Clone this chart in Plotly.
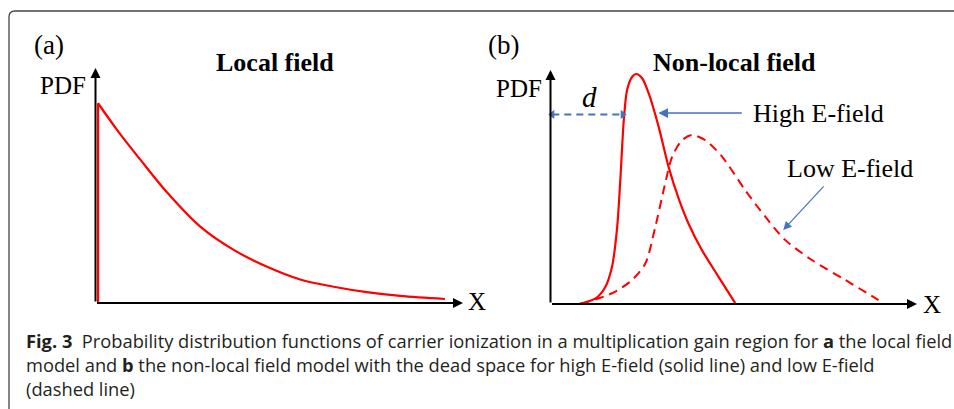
import plotly.graph_objects as go

W, H = 954, 409

# ---------------- data (arbitrary units) ----------------
# Panel (a): local field PDF
x_local = [0.07, 0.59, 1.22, 1.95, 2.85, 3.76, 4.67, 5.57, 6.48, 7.38, 8.29, 9.51]
pdf_local = [0.85, 0.736, 0.61, 0.47, 0.325, 0.226, 0.154, 0.10, 0.069, 0.046, 0.030, 0.017]

# Panel (b): non-local field PDFs
x_high = [0.77, 1.23, 1.50, 1.68, 1.82, 1.91, 2.00, 2.09, 2.23, 2.34, 2.50, 2.68,
          2.95, 3.22, 3.50, 3.77, 4.13, 4.59, 5.04]
pdf_high = [0.0, 0.024, 0.074, 0.16, 0.33, 0.544, 0.786, 0.915, 0.971, 0.983, 0.965,
            0.90, 0.758, 0.587, 0.449, 0.342, 0.231, 0.115, 0.004]

x_low = [0.82, 1.68, 2.23, 2.59, 2.86, 3.13, 3.32, 3.59, 3.86, 4.22, 4.68, 5.31,
         5.86, 6.40, 7.13, 8.04, 8.95]
pdf_low = [0.0, 0.046, 0.103, 0.174, 0.33, 0.516, 0.63, 0.70, 0.722, 0.70, 0.63,
           0.487, 0.373, 0.274, 0.188, 0.103, 0.017]

dead_space_x = [0.05, 1.97]
dead_space_y = 0.81

caption_lines = [
    "<b>Fig. 3</b>\u00a0\u00a0Probability distribution functions of carrier ionization in a "
    "multiplication gain region for <b>a</b> the local field",
    "model and <b>b</b> the non-local field model with the dead space for high E-field "
    "(solid line) and low E-field",
    "(dashed line)",
]

# ---------------- layout helpers ----------------
def px(x):
    return x / W


def py(y):
    return 1 - y / H


XR = [-0.2, 10.2]
YR = [-0.05, 1.05]


def domains(x0, x10, y0, y1):
    sx = (x10 - x0) / 10.0
    sy = (y0 - y1) / 1.0
    xd = [px(x0 + XR[0] * sx), px(x0 + XR[1] * sx)]
    yd = [py(y0 - YR[0] * sy), py(y0 - YR[1] * sy)]
    return xd, yd


xa_dom, ya_dom = domains(95.5, 463, 303, 68)
xb_dom, yb_dom = domains(550.5, 917, 304, 70)

RED = "#ff0000"
BLUE = "#4472c4"
SERIF = "Liberation Serif, Times New Roman, serif"
SANS = "Open Sans, sans-serif"

fig = go.Figure()

# Panel (a)
fig.add_trace(go.Scatter(x=[x_local[0], x_local[0]], y=[0, pdf_local[0]], mode="lines",
                         line=dict(color=RED, width=2.2), xaxis="x", yaxis="y",
                         hoverinfo="skip"))
fig.add_trace(go.Scatter(x=x_local, y=pdf_local, mode="lines",
                         line=dict(color=RED, width=2.2, shape="spline", smoothing=1.0),
                         xaxis="x", yaxis="y", hoverinfo="skip"))

# Panel (b)
fig.add_trace(go.Scatter(x=x_low, y=pdf_low, mode="lines",
                         line=dict(color=RED, width=2, dash="9px,6px", shape="spline",
                                   smoothing=0.8),
                         xaxis="x2", yaxis="y2", hoverinfo="skip"))
fig.add_trace(go.Scatter(x=x_high, y=pdf_high, mode="lines",
                         line=dict(color=RED, width=2.2, shape="spline", smoothing=0.8),
                         xaxis="x2", yaxis="y2", hoverinfo="skip"))
fig.add_trace(go.Scatter(x=dead_space_x, y=[dead_space_y, dead_space_y], mode="lines+markers",
                         line=dict(color=BLUE, width=2, dash="7px,5px"),
                         marker=dict(symbol=["triangle-left", "triangle-right"], size=8,
                                     color=BLUE),
                         xaxis="x2", yaxis="y2", hoverinfo="skip"))

ann = []
# axes arrows
for xr, yr in (("x", "y"), ("x2", "y2")):
    ann.append(dict(x=10, y=0, ax=0, ay=0, xref=xr, yref=yr, axref=xr, ayref=yr,
                    text="", showarrow=True, arrowhead=2, arrowsize=1, arrowwidth=2,
                    arrowcolor="black"))
    ann.append(dict(x=0, y=1, ax=0, ay=0, xref=xr, yref=yr, axref=xr, ayref=yr,
                    text="", showarrow=True, arrowhead=2, arrowsize=1, arrowwidth=2,
                    arrowcolor="black"))

# blue pointer arrows
ann.append(dict(x=2.94, y=0.816, ax=5.26, ay=0.816, xref="x2", yref="y2", axref="x2",
                ayref="y2", text="", showarrow=True, arrowhead=2, arrowsize=1.3,
                arrowwidth=1.5, arrowcolor=BLUE))
ann.append(dict(x=6.35, y=0.316, ax=7.49, ay=0.509, xref="x2", yref="y2", axref="x2",
                ayref="y2", text="", showarrow=True, arrowhead=2, arrowsize=1.4,
                arrowwidth=1.2, arrowcolor=BLUE))


def label(text, x, y, size, xanchor="center", family=SERIF, color="black", align="center"):
    ann.append(dict(text=text, x=px(x), y=py(y), xref="paper", yref="paper",
                    xanchor=xanchor, yanchor="middle", showarrow=False, align=align,
                    font=dict(family=family, size=size, color=color)))


label("(a)", 32, 45, 27, "left")
label("(b)", 486, 45, 27, "left")
label("<b>Local field</b>", 274.5, 63, 26)
label("<b>Non-local field</b>", 734, 63, 26)
label("PDF", 88, 86, 25, "right")
label("PDF", 544, 89, 25, "right")
label("X", 466, 301, 25, "left")
label("X", 921, 304, 25, "left")
label("<i>d</i>", 589, 97, 29)
label("High E-field", 751, 113, 26, "left")
label("Low E-field", 785, 168, 26, "left")

label("<br>".join(caption_lines), 24, 364.5, 18.3, "left", SANS, "#231f20", "left")

# frame with rounded top-left corner
r = 6
path = (f"M {px(9)},{py(H + 2)} L {px(9)},{py(11 + r)} "
        f"Q {px(9)},{py(11)} {px(9 + r)},{py(11)} L {px(W + 2)},{py(11)}")
shapes = [dict(type="path", path=path, xref="paper", yref="paper",
               line=dict(color="#444444", width=1.3))]

ax_common = dict(visible=False, fixedrange=True)
fig.update_layout(
    width=W, height=H, margin=dict(l=0, r=0, t=0, b=0),
    paper_bgcolor="white", plot_bgcolor="white", showlegend=False,
    xaxis=dict(domain=xa_dom, range=XR, anchor="y", **ax_common),
    yaxis=dict(domain=ya_dom, range=YR, anchor="x", **ax_common),
    xaxis2=dict(domain=xb_dom, range=XR, anchor="y2", **ax_common),
    yaxis2=dict(domain=yb_dom, range=YR, anchor="x2", **ax_common),
    annotations=ann, shapes=shapes,
)

fig.write_html("out.html")
